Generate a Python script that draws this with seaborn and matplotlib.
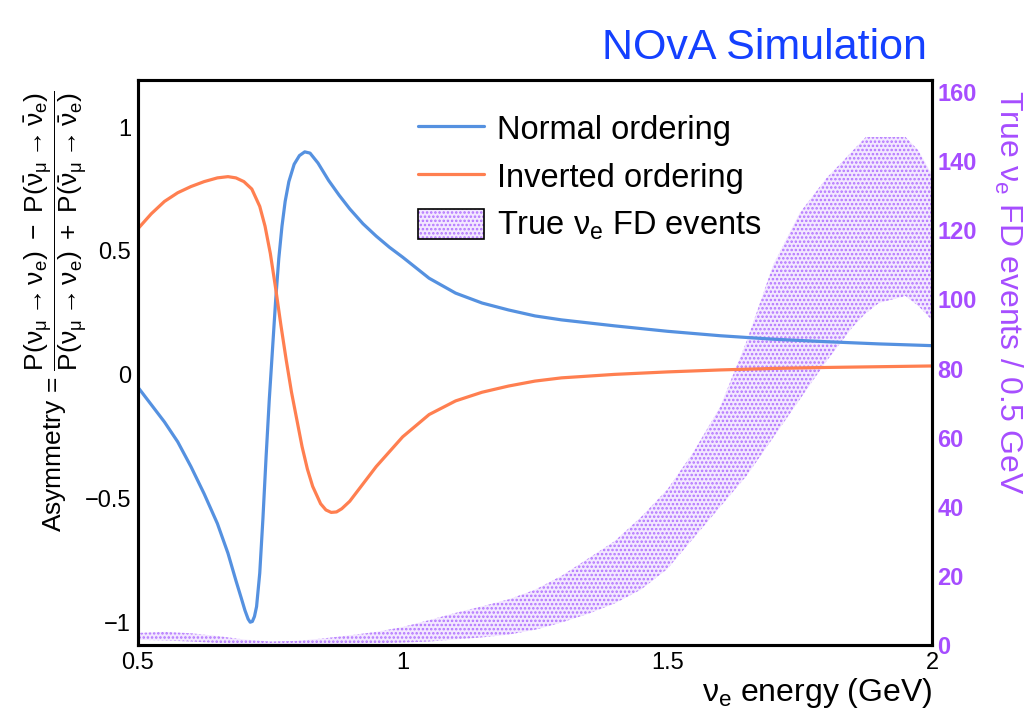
import numpy as np
import pandas as pd
import matplotlib
matplotlib.use("Agg")
import matplotlib.pyplot as plt
import seaborn as sns
from matplotlib.patches import Patch
from matplotlib.lines import Line2D
from matplotlib.legend_handler import HandlerTuple

# ---------------- data ----------------
energy_no = [0.500, 0.525, 0.550, 0.575, 0.600, 0.625, 0.650, 0.670, 0.685, 0.695,
             0.702, 0.708, 0.712, 0.716, 0.720, 0.724, 0.730, 0.736, 0.742, 0.748,
             0.754, 0.760, 0.766, 0.772, 0.778, 0.785, 0.795, 0.805, 0.815, 0.825,
             0.840, 0.860, 0.880, 0.900, 0.925, 0.950, 0.975, 1.000, 1.050, 1.100,
             1.150, 1.200, 1.250, 1.300, 1.350, 1.400, 1.500, 1.600, 1.700, 1.800,
             1.900, 2.000]
asym_no = [-0.05, -0.12, -0.19, -0.27, -0.37, -0.48, -0.60, -0.72, -0.83, -0.90,
           -0.95, -0.985, -0.998, -0.995, -0.975, -0.935, -0.80, -0.58, -0.33, -0.10,
           0.10, 0.30, 0.47, 0.60, 0.70, 0.78, 0.85, 0.885, 0.90, 0.895,
           0.855, 0.785, 0.725, 0.67, 0.61, 0.56, 0.515, 0.475, 0.39, 0.33,
           0.29, 0.262, 0.238, 0.222, 0.21, 0.198, 0.176, 0.158, 0.144, 0.134,
           0.125, 0.118]

energy_io = [0.500, 0.525, 0.550, 0.575, 0.600, 0.625, 0.650, 0.670, 0.685, 0.700,
             0.715, 0.730, 0.740, 0.750, 0.760, 0.770, 0.780, 0.790, 0.800, 0.810,
             0.820, 0.830, 0.845, 0.855, 0.865, 0.875, 0.885, 0.900, 0.925, 0.950,
             0.975, 1.000, 1.050, 1.100, 1.150, 1.200, 1.250, 1.300, 1.350, 1.400,
             1.500, 1.600, 1.700, 1.800, 1.900, 2.000]
asym_io = [0.59, 0.65, 0.70, 0.735, 0.76, 0.78, 0.795, 0.80, 0.795, 0.78,
           0.75, 0.68, 0.60, 0.49, 0.35, 0.20, 0.06, -0.07, -0.18, -0.29,
           -0.38, -0.45, -0.52, -0.545, -0.555, -0.553, -0.54, -0.51, -0.44, -0.37,
           -0.31, -0.25, -0.16, -0.105, -0.07, -0.045, -0.025, -0.012, -0.005, 0.002,
           0.012, 0.020, 0.026, 0.030, 0.033, 0.036]

energy_band = [0.50, 0.55, 0.60, 0.65, 0.70, 0.75, 0.80, 0.85, 0.90, 0.95,
               1.00, 1.05, 1.10, 1.15, 1.20, 1.25, 1.30, 1.35, 1.40, 1.45,
               1.50, 1.55, 1.60, 1.65, 1.70, 1.75, 1.80, 1.85, 1.875, 1.90,
               1.95, 1.975, 2.00]
events_hi = [3.5, 3.8, 3.4, 2.6, 1.6, 1.0, 1.2, 1.9, 2.8, 3.8,
             5.2, 7.2, 9.3, 11.2, 13.2, 16, 20, 25, 30, 37,
             45, 56, 69, 88, 110, 125, 135, 143, 147, 147,
             147, 143, 136]
events_lo = [1.5, 1.3, 1.0, 0.6, 0.2, 0.0, 0.1, 0.2, 0.4, 0.5,
             0.7, 1.0, 1.6, 2.2, 3.0, 4.4, 6.5, 9, 12, 16,
             22, 31, 40, 49, 60, 71, 82, 92, 96, 99,
             101, 98, 94]

xticks = [0.5, 1.0, 1.5, 2.0]
xticklabels = ["0.5", "1", "1.5", "2"]
yticks = [-1, -0.5, 0, 0.5, 1]
yticklabels = ["\u22121", "\u22120.5", "0", "0.5", "1"]
y2ticks = [0, 20, 40, 60, 80, 100, 120, 140, 160]

# ---------------- style ----------------
sns.set_theme(style="white")
plt.rcParams["font.family"] = ["Liberation Sans", "DejaVu Sans"]
plt.rcParams["mathtext.fontset"] = "custom"
plt.rcParams["mathtext.rm"] = "Liberation Sans"
plt.rcParams["mathtext.it"] = "Liberation Sans"
plt.rcParams["mathtext.bf"] = "Liberation Sans:bold"
plt.rcParams["hatch.linewidth"] = 1.2
for k in ("text.color", "axes.labelcolor", "xtick.color", "ytick.color"):
    plt.rcParams[k] = "black"

BLUE = "#5591e0"
ORANGE = "#ff7f50"
PURPLE = "#a64dff"
HATCH = "#b273ff"
BANDFACE = "#f3e8ff"

fig = plt.figure(figsize=(10.26, 7.12), dpi=100)
ax = fig.add_axes([138 / 1026, 1 - 645 / 712, 794 / 1026, 565 / 712])
ax2 = ax.twinx()

# band on secondary axis
ax2.fill_between(energy_band, events_lo, events_hi, facecolor=BANDFACE,
                 edgecolor=HATCH, hatch="....", linewidth=0)
ax2.set_ylim(0, 163.5)
ax2.set_yticks(y2ticks)
ax2.set_yticklabels([str(v) for v in y2ticks], color=PURPLE, fontweight="bold",
                    fontsize=17)
ax2.tick_params(axis="y", length=0, pad=4)
ax2.set_ylabel(r"True $\nu_{e}$ FD events / 0.5 GeV", color=PURPLE, fontsize=23,
               rotation=270, va="bottom")
ax2.yaxis.set_label_coords(1.075, 0.625)

# curves on primary axis (drawn on top)
ax.set_zorder(ax2.get_zorder() + 1)
ax.patch.set_visible(False)
df_no = pd.DataFrame({"E": energy_no, "A": asym_no})
df_io = pd.DataFrame({"E": energy_io, "A": asym_io})
sns.lineplot(data=df_no, x="E", y="A", ax=ax, color=BLUE, lw=2.3, sort=False,
             estimator=None)
sns.lineplot(data=df_io, x="E", y="A", ax=ax, color=ORANGE, lw=2.3, sort=False,
             estimator=None)

ax.set_xlim(0.5, 2.0)
ax.set_ylim(-1.09, 1.19)
ax.set_xticks(xticks)
ax.set_xticklabels(xticklabels, fontsize=17)
ax.set_yticks(yticks)
ax.set_yticklabels(yticklabels, fontsize=17)
ax.tick_params(axis="both", length=0, pad=5)
ax2.tick_params(axis="x", length=0)

for a in (ax, ax2):
    for s in a.spines.values():
        s.set_color("black")
        s.set_linewidth(2.2)

ax.set_xlabel(r"$\nu_{e}$ energy (GeV)", fontsize=23, ha="right")
ax.xaxis.set_label_coords(1.0, -0.055)
ax.xaxis.label.set_va("top")

ylabel = (r"Asymmetry = $\dfrac{P(\nu_{\mu} \rightarrow \nu_{e})\ -\ "
          r"P(\bar{\nu}_{\mu} \rightarrow \bar{\nu}_{e})}"
          r"{P(\nu_{\mu} \rightarrow \nu_{e})\ +\ "
          r"P(\bar{\nu}_{\mu} \rightarrow \bar{\nu}_{e})}$")
ax.set_ylabel(ylabel, fontsize=19)
ax.yaxis.set_label_coords(-0.062, 0.59)

# legend
handles = [
    Line2D([], [], color=BLUE, lw=2.3),
    Line2D([], [], color=ORANGE, lw=2.3),
    (Patch(facecolor=BANDFACE, edgecolor=HATCH, hatch="....", linewidth=0),
     Patch(facecolor="none", edgecolor="black", linewidth=1.2)),
]
labels = ["Normal ordering", "Inverted ordering", r"True $\nu_{e}$ FD events"]
ax.legend(handles, labels, loc="upper left", bbox_to_anchor=(0.353, 0.942),
          frameon=False, fontsize=23.5, handlelength=2.0, handleheight=1.05,
          handletextpad=0.4, labelspacing=0.45, borderpad=0, borderaxespad=0,
          handler_map={tuple: HandlerTuple(ndivide=1)})

fig.text(927 / 1026, 1 - 48 / 712, "NOvA Simulation", color="#1440ff",
         fontsize=31, ha="right", va="center")

fig.savefig("out.png", dpi=100)
